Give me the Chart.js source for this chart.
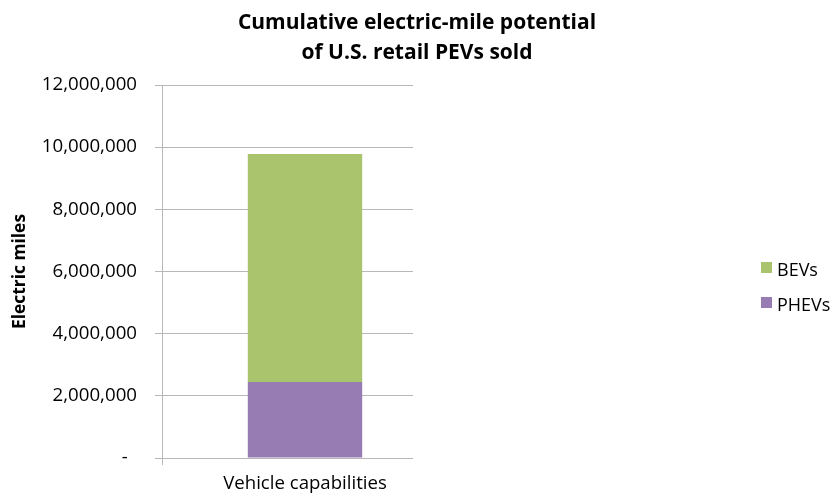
<!DOCTYPE html>
<html>
<head>
<meta charset="utf-8">
<script src="https://cdn.jsdelivr.net/npm/chart.js@4"></script>
<style>
  html, body { margin: 0; padding: 0; background: #fff; }
  #wrap { width: 834px; height: 496px; position: relative; }
</style>
</head>
<body>
<div id="wrap"><canvas id="chart"></canvas></div>
<script>
// data
const categories = ["Vehicle capabilities"];
const phevMiles = [2445000];
const bevMiles = [7335000];
const seriesNames = ["PHEVs", "BEVs"];
const yTicks = [0, 2000000, 4000000, 6000000, 8000000, 10000000, 12000000];
const titleLines = ["Cumulative electric-mile potential", "of U.S. retail PEVs sold"];

const FONT = "'Open Sans', Lato, sans-serif";
const GRID = "#b8b8b8";
const GREEN = "rgb(170, 196, 110)";
const PURPLE = "rgb(150, 124, 178)";

// the source font is narrower, so pick sizes that give the same text widths
const probe = document.createElement("canvas").getContext("2d");
function fit(text, weight, width) {
  probe.font = weight + " 100px " + FONT;
  return Math.round(100 * width / probe.measureText(text).width * 10) / 10;
}
const titleSize = fit(titleLines[0], "bold", 359);
const yTitleSize = fit("Electric miles", "bold", 115);
const xTickSize = fit(categories[0], "normal", 164);
const yTickSize = fit("12,000,000", "normal", 95);
const legendSize = fit("BEVs", "normal", 41);

// title and legend drawn by hand; clip keeps the grid ending at x=412 like the source
const extras = {
  id: "extras",
  beforeDraw(chart) {
    const ctx = chart.ctx;
    ctx.save();
    ctx.beginPath();
    ctx.rect(0, 0, 413, chart.height);
    ctx.clip();
  },
  afterDraw(chart) {
    const ctx = chart.ctx;
    ctx.restore();
    ctx.save();
    ctx.fillStyle = "#000";
    ctx.textAlign = "center";
    ctx.textBaseline = "alphabetic";
    ctx.font = "bold " + titleSize + "px " + FONT;
    titleLines.forEach((t, i) => ctx.fillText(t, 417, 29 + i * 30));

    // legend, reversed like the source (top series first)
    ctx.font = legendSize + "px " + FONT;
    ctx.textAlign = "left";
    const sets = chart.data.datasets.slice().reverse();
    sets.forEach((ds, i) => {
      const y = 262 + i * 35;
      ctx.fillStyle = ds.backgroundColor;
      ctx.fillRect(761, y, 11, 11);
      ctx.fillStyle = "#000";
      ctx.fillText(ds.label, 777, y + 14);
    });
    ctx.restore();
  }
};

new Chart(document.getElementById("chart"), {
  type: "bar",
  data: {
    labels: categories,
    datasets: [
      { label: seriesNames[0], data: phevMiles, backgroundColor: PURPLE },
      { label: seriesNames[1], data: bevMiles, backgroundColor: GREEN }
    ]
  },
  options: {
    responsive: true,
    maintainAspectRatio: false,
    animation: false,
    layout: { padding: { left: 10, right: 386, top: 85, bottom: 0 } },
    plugins: {
      legend: { display: false },
      title: { display: false },
      tooltip: { enabled: false }
    },
    datasets: {
      bar: { categoryPercentage: 1, barPercentage: 0.4 }
    },
    scales: {
      x: {
        stacked: true,
        grid: {
          color: (c) => (c.index === 0 ? GRID : "rgba(0,0,0,0)"),
          drawOnChartArea: false,
          tickLength: 7
        },
        border: { color: GRID },
        ticks: { color: "#000", font: { family: FONT, size: xTickSize }, padding: 8 },
        afterFit: (s) => { s.height = 38; }
      },
      y: {
        stacked: true,
        min: 0,
        max: 12000000,
        afterBuildTicks: (s) => { s.ticks = yTicks.map((v) => ({ value: v })); },
        grid: { color: GRID, tickLength: 7 },
        border: { color: GRID },
        ticks: {
          color: "#000",
          font: { family: FONT, size: yTickSize },
          padding: 18,
          // accounting style: the zero dash sits a little left of the digits' edge
          callback: (v) => (v === 0 ? "-\u2002" : v.toLocaleString("en-US"))
        },
        title: {
          display: true,
          text: "Electric miles",
          color: "#000",
          font: { family: FONT, size: yTitleSize, weight: "bold" },
          padding: 0
        },
        afterFit: (s) => { s.width = 152; }
      }
    }
  },
  plugins: [extras]
});
</script>
</body>
</html>
